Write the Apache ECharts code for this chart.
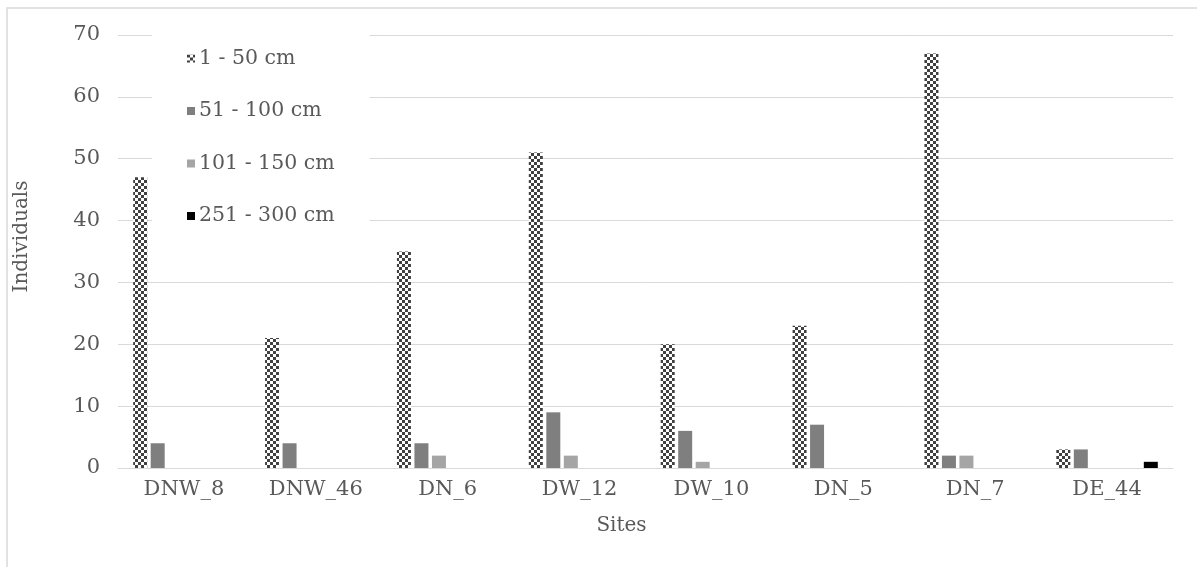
<!DOCTYPE html>
<html>
<head>
<meta charset="utf-8">
<script src="https://cdn.jsdelivr.net/npm/echarts@6/dist/echarts.min.js"></script>
<style>
  html, body { margin: 0; padding: 0; background: #fff; }
  #chart { width: 1197px; height: 567px; }
</style>
</head>
<body>
<div id="chart"></div>
<script>
// Sites along the x axis
const sites = ['DNW_8', 'DNW_46', 'DN_6', 'DW_12', 'DW_10', 'DN_5', 'DN_7', 'DE_44'];

// Individuals counted per height class at each site
const h1to50    = [47, 21, 35, 51, 20, 23, 67, 3];
const h51to100  = [4, 4, 4, 9, 6, 7, 2, 3];
const h101to150 = [0, 0, 2, 2, 1, 0, 2, 0];
const h151to200 = [0, 0, 0, 0, 0, 0, 0, 0];
const h201to250 = [0, 0, 0, 0, 0, 0, 0, 0];
const h251to300 = [0, 0, 0, 0, 0, 0, 0, 1];

const yTicks = { min: 0, max: 70, step: 10 };

// Small checkerboard fill for the first height class
function checker() {
  const c = document.createElement('canvas');
  c.width = 6; c.height = 6;
  const g = c.getContext('2d');
  g.fillStyle = '#ffffff';
  g.fillRect(0, 0, 6, 6);
  g.fillStyle = '#404040';
  g.fillRect(0, 0, 3, 3);
  g.fillRect(3, 3, 3, 3);
  return { image: c, repeat: 'repeat' };
}

const font = 'DejaVu Serif';
const textColor = '#595959';

const classes = [
  { name: '1 - 50 cm',    data: h1to50,    color: checker() },
  { name: '51 - 100 cm',  data: h51to100,  color: '#7f7f7f' },
  { name: '101 - 150 cm', data: h101to150, color: '#a5a5a5' },
  { name: '151 - 200 cm', data: h151to200, color: '#595959' },
  { name: '201 - 250 cm', data: h201to250, color: '#262626' },
  { name: '251 - 300 cm', data: h251to300, color: '#000000' }
];

const chart = echarts.init(document.getElementById('chart'), null, { renderer: 'canvas' });

chart.setOption({
  animation: false,
  backgroundColor: '#ffffff',
  textStyle: { fontFamily: font },
  graphic: [{
    type: 'rect',
    left: 4.5, top: 5.5,
    shape: { width: 1210, height: 600 },
    style: { fill: 'none', stroke: '#d9d9d9', lineWidth: 1.5 },
    silent: true
  }],
  grid: { left: 118, right: 24, top: 35, bottom: 99, containLabel: false },
  legend: {
    orient: 'vertical',
    left: 152,
    top: 31,
    data: ['1 - 50 cm', '51 - 100 cm', '101 - 150 cm', '251 - 300 cm'],
    icon: 'rect',
    itemWidth: 8,
    itemHeight: 8,
    itemGap: 31.5,
    padding: [17, 35, 17, 35],
    backgroundColor: '#ffffff',
    textStyle: { fontFamily: font, fontSize: 20.5, color: textColor, lineHeight: 20, padding: [0, 0, 0, -1] }
  },
  xAxis: {
    type: 'category',
    data: sites,
    name: 'Sites',
    nameLocation: 'middle',
    nameGap: 48,
    nameTextStyle: { fontFamily: font, fontSize: 20, color: textColor, padding: [0, 48, 0, 0] },
    axisLine: { show: true, lineStyle: { color: '#d9d9d9', width: 1 } },
    axisTick: { show: false },
    axisLabel: { fontFamily: font, fontSize: 21, color: textColor, margin: 11 },
    splitLine: { show: false }
  },
  yAxis: {
    type: 'value',
    min: yTicks.min,
    max: yTicks.max,
    interval: yTicks.step,
    name: 'Individuals',
    nameLocation: 'middle',
    nameGap: 86,
    nameTextStyle: { fontFamily: font, fontSize: 20, color: textColor, padding: [0, 0, 0, 30] },
    axisLine: { show: false },
    axisTick: { show: false },
    axisLabel: { fontFamily: font, fontSize: 21, color: textColor, margin: 18 },
    splitLine: { show: true, lineStyle: { color: '#d9d9d9', width: 1 } }
  },
  series: classes.map(c => ({
    name: c.name,
    type: 'bar',
    data: c.data,
    barWidth: 14,
    barGap: '25%',
    itemStyle: { color: c.color }
  }))
});
</script>
</body>
</html>
